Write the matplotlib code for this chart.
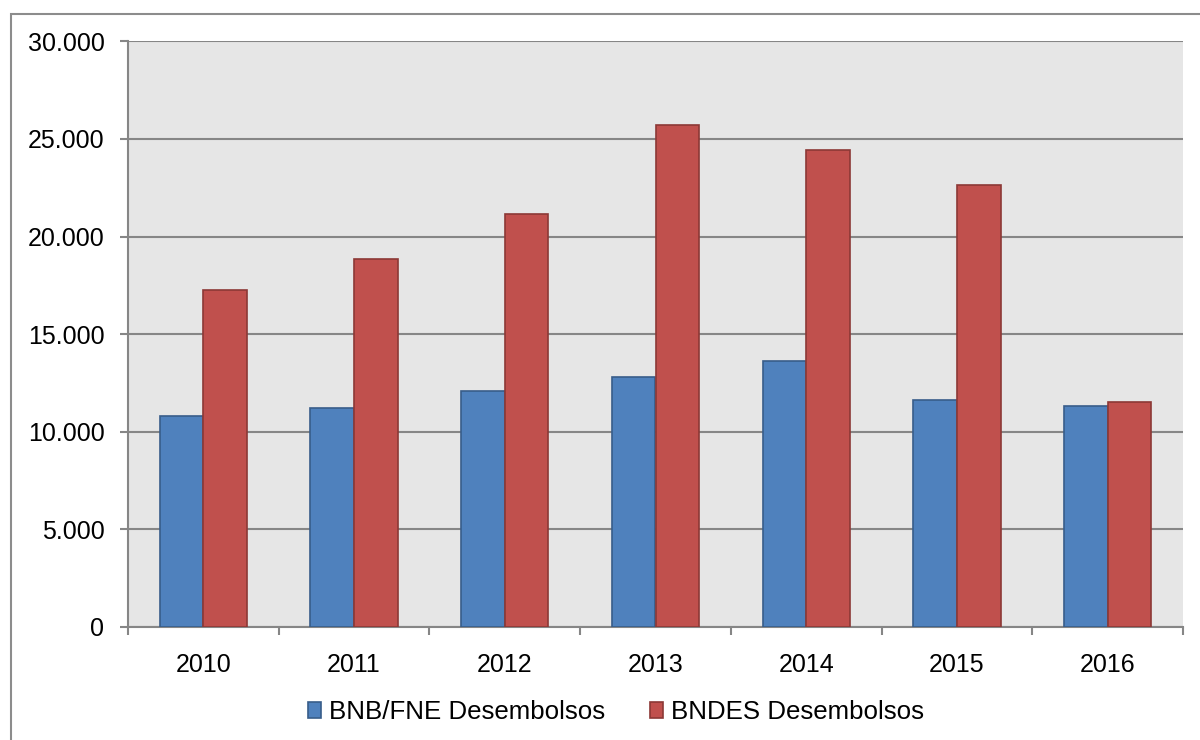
import matplotlib
matplotlib.use("Agg")
import matplotlib.pyplot as plt
from matplotlib.patches import Rectangle
import numpy as np

anos = ["2010", "2011", "2012", "2013", "2014", "2015", "2016"]
bnb_fne = [10820, 11210, 12100, 12800, 13620, 11620, 11330]
bndes = [17260, 18840, 21160, 25720, 24440, 22650, 11520]
yticks = [0, 5000, 10000, 15000, 20000, 25000, 30000]
ylabels = ["0", "5.000", "10.000", "15.000", "20.000", "25.000", "30.000"]

plt.rcParams['font.family'] = ['Liberation Sans', 'DejaVu Sans']

fig = plt.figure(figsize=(12, 7.4), dpi=100)
ax = fig.add_axes([128 / 1200, 1 - 627 / 740, (1183 - 128) / 1200, (627 - 41.3) / 740])

# moldura externa
fig.patches.append(Rectangle((11 / 1200, -0.1), 1.2, 1 - 13.5 / 740 + 0.1,
                             transform=fig.transFigure, fill=False,
                             edgecolor="#8c8c8c", linewidth=1.5, zorder=0))

x = np.arange(len(anos))
w = 0.29
ax.bar(x - w / 2, bnb_fne, w, color="#4F81BD", edgecolor="#385D8A", linewidth=1.2,
       label="BNB/FNE Desembolsos", zorder=3)
ax.bar(x + w / 2, bndes, w, color="#C0504D", edgecolor="#8C3836", linewidth=1.2,
       label="BNDES Desembolsos", zorder=3)

ax.set_facecolor("#E6E6E6")
ax.set_xlim(-0.5, len(anos) - 0.5)
ax.set_ylim(0, 30000)
ax.set_yticks(yticks)
ax.set_yticklabels(ylabels, fontsize=18)
ax.yaxis.grid(True, color="#868686", linewidth=1.5, zorder=1)
ax.set_axisbelow(True)

ax.set_xticks(x)
ax.set_xticklabels(anos, fontsize=18)
ax.set_xticks(np.arange(len(anos) + 1) - 0.5, minor=True)
ax.tick_params(axis="x", which="major", length=0, pad=19)
ax.tick_params(axis="x", which="minor", length=6, width=1.5, color="#868686", direction="out")
ax.tick_params(axis="y", length=6, width=1.5, color="#868686", pad=11)

for s in ["top", "right"]:
    ax.spines[s].set_visible(False)
ax.spines["left"].set_color("#868686")
ax.spines["left"].set_linewidth(1.5)
ax.spines["bottom"].set_color("#868686")
ax.spines["bottom"].set_linewidth(1.5)

fig.legend(loc="center", bbox_to_anchor=(616 / 1200, 1 - 712 / 740), ncol=2, frameon=False,
           fontsize=18.6, handlelength=0.5, handleheight=0.56, handletextpad=0.3,
           columnspacing=1.75, borderpad=0)

fig.savefig("out.png", dpi=100)
